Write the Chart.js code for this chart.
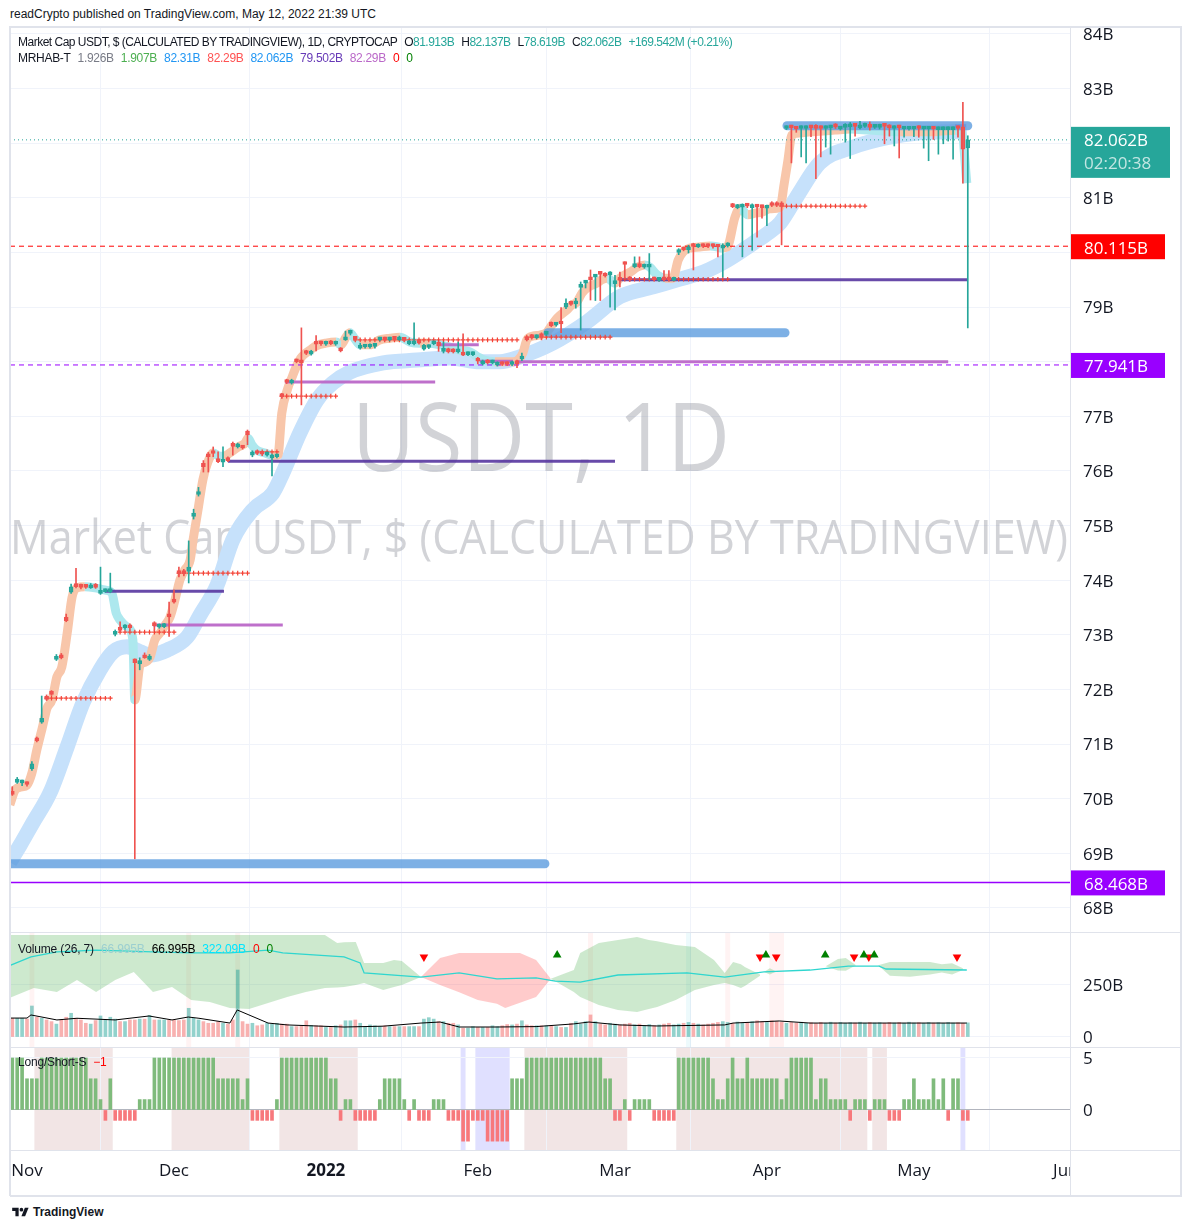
<!DOCTYPE html>
<html>
<head>
<meta charset="utf-8">
<script src="https://cdn.jsdelivr.net/npm/chart.js@4.4.1/dist/chart.umd.min.js"></script>
<style>
    body { margin: 0; width: 1190px; height: 1230px; background: #fff; position: relative; overflow: hidden;
           font-family: 'Liberation Sans', Arial, sans-serif; color: #131722; }
    canvas { position: absolute; left: 10px; }
    #mainChart { top: 27px; }
    #volChart { top: 933px; }
    #lsChart { top: 1048px; }
    .txt { position: absolute; font-size: 12px; line-height: 14px; white-space: nowrap; z-index: 6; }
    .txt span { margin-left: 7px; }
    .sep { position: absolute; background: #e0e3eb; z-index: 5; }
    #pub { left: 10px; top: 7px; }
    #legend1 { left: 18px; top: 35px; letter-spacing: -0.5px; }
    #legend2 { left: 18px; top: 51px; letter-spacing: -0.3px; }
    #volLegend { left: 18px; top: 942px; letter-spacing: -0.15px; }
    #lsLegend { left: 18px; top: 1055px; letter-spacing: -0.2px; }
    #tvlogo { left: 12px; top: 1205px; font-weight: bold; display: flex; align-items: center; }
    .g { color: #26a69a; }
</style>
</head>
<body>
<div class="txt" id="pub">readCrypto published on TradingView.com, May 12, 2022 21:39 UTC</div>
<div class="txt" id="legend1">Market Cap USDT, $ (CALCULATED BY TRADINGVIEW), 1D, CRYPTOCAP<span>O<b class="g" style="font-weight:normal">81.913B</b></span><span>H<b class="g" style="font-weight:normal">82.137B</b></span><span>L<b class="g" style="font-weight:normal">78.619B</b></span><span>C<b class="g" style="font-weight:normal">82.062B</b></span><span class="g">+169.542M (+0.21%)</span></div>
<div class="txt" id="legend2">MRHAB-T<span style="color:#787b86">1.926B</span><span style="color:#4caf50">1.907B</span><span style="color:#2196f3">82.31B</span><span style="color:#ff5252">82.29B</span><span style="color:#2196f3">82.062B</span><span style="color:#673ab7">79.502B</span><span style="color:#ba68c8">82.29B</span><span style="color:#ff0000">0</span><span style="color:#008000">0</span></div>
<div class="txt" id="volLegend">Volume (26, 7)<span style="color:#9ccfd0">66.995B</span><span style="color:#000">66.995B</span><span style="color:#00e5ff">322.09B</span><span style="color:#ff0000">0</span><span style="color:#008000">0</span></div>
<div class="txt" id="lsLegend">Long/Short-S<span style="color:#ff0000">−1</span></div>
<div class="txt" id="tvlogo"><svg width="17" height="12" viewBox="0 0 36 26"><path d="M14 22H7V11H0V4h14v18z" fill="#131722"/><circle cx="20" cy="8" r="4" fill="#131722"/><path d="M28 22h-8l7.5-18h8z" fill="#131722"/></svg><span style="margin-left:4px">TradingView</span></div>

<canvas id="mainChart" width="1170" height="905"></canvas>
<canvas id="volChart" width="1170" height="114"></canvas>
<canvas id="lsChart" width="1170" height="147"></canvas>

<div class="sep" style="left:10px;top:26px;width:1171px;height:2px"></div>
<div class="sep" style="left:9px;top:26px;width:2px;height:1170px"></div>
<div class="sep" style="left:1180px;top:26px;width:2px;height:1170px"></div>
<div class="sep" style="left:10px;top:1195px;width:1172px;height:2px"></div>
<div class="sep" style="left:1070px;top:27px;width:1px;height:1168px"></div>
<div class="sep" style="left:10px;top:932px;width:1170px;height:1px"></div>
<div class="sep" style="left:10px;top:1047px;width:1170px;height:1px"></div>
<div class="sep" style="left:10px;top:1150px;width:1170px;height:1px"></div>

<script>
/* eslint-disable no-undef */
// day 0 = 1 Nov 2021, first candle = 29 Oct 2021
const FIRST_DAY = -3;
const X_MIN = -3.47;
const X_MAX = 212.86;

const monthDays = [0, 30, 61, 92, 120, 151, 181, 212];
const monthLabels = ['Nov', 'Dec', '2022', 'Feb', 'Mar', 'Apr', 'May', 'Jun'];
const priceTicks = [68, 69, 70, 71, 72, 73, 74, 75, 76, 77, 78, 79, 80, 81, 82, 83, 84];
const hiddenPriceTicks = [78, 80, 82];
const volumeTicks = [0, 250];
const lsTicks = [0, 5];

// daily candles, billions
const ohlcOpen = [
    70.13, 70.30, 70.29, 70.30, 70.55, 71.10, 71.40, 71.86, 71.95, 72.55,
    72.62, 73.32, 73.78, 73.94, 73.90, 73.90, 73.86, 73.91, 73.76, 73.79,
    73.79, 73.01, 73.14, 73.13, 73.17, 72.56, 72.47, 72.62, 72.55, 73.20,
    73.14, 73.15, 73.38, 73.65, 74.16, 74.16, 74.16, 75.17, 75.57, 76.14,
    76.31, 76.37, 76.20, 76.16, 76.22, 76.49, 76.44, 76.45, 76.73, 76.29,
    76.35, 76.34, 76.29, 76.24, 76.26, 77.40, 77.66, 77.61, 78.04, 78.03,
    78.19, 78.14, 78.36, 78.36, 78.32, 78.37, 78.32, 78.24, 78.40, 78.52,
    78.44, 78.25, 78.27, 78.27, 78.28, 78.40, 78.43, 78.40, 78.44, 78.40,
    78.42, 78.33, 78.33, 78.37, 78.23, 78.26, 78.33, 78.36, 78.19, 78.24,
    78.22, 78.18, 78.16, 78.13, 78.13, 78.05, 77.96, 78.03, 77.98, 77.94,
    77.98, 77.98, 77.95, 78.02, 78.05, 78.44, 78.48, 78.44, 78.50, 78.50,
    78.72, 78.67, 78.73, 79.00, 79.09, 79.06, 79.36, 79.44, 79.53, 79.55,
    79.63, 79.62, 79.59, 79.43, 79.52, 79.82, 79.53, 79.74, 79.77, 79.73,
    79.73, 79.53, 79.49, 79.54, 79.53, 79.49, 80.00, 80.08, 80.05, 80.14,
    80.10, 80.14, 80.14, 80.14, 80.13, 80.08, 80.12, 80.89, 80.82, 80.83,
    80.88, 80.82, 80.86, 80.85, 80.81, 80.91, 80.91, 80.91, 82.27, 82.31,
    82.28, 82.27, 82.27, 82.31, 82.33, 82.30, 82.27, 82.28, 82.33, 82.26,
    82.29, 82.30, 82.35, 82.28, 82.31, 82.32, 82.29, 82.29, 82.34, 82.33,
    82.27, 82.31, 82.26, 82.26, 82.26, 82.30, 82.26, 82.26, 82.30, 82.25,
    82.25, 82.25, 82.25, 82.30, 82.30, 81.913
];
const ohlcHigh = [
    70.22, 70.39, 70.34, 70.31, 70.68, 71.13, 71.88, 71.90, 71.98, 72.64,
    72.66, 73.38, 73.93, 74.22, 73.93, 73.92, 73.94, 73.94, 74.24, 73.84,
    74.13, 73.09, 73.24, 73.19, 73.20, 72.56, 72.58, 72.67, 72.64, 73.24,
    73.20, 73.21, 73.60, 73.82, 74.24, 74.20, 74.72, 75.30, 75.70, 76.19,
    76.34, 76.44, 76.35, 76.44, 76.26, 76.53, 76.51, 76.47, 76.75, 76.37,
    76.37, 76.35, 76.35, 76.31, 76.31, 77.42, 77.68, 77.68, 78.05, 78.62,
    78.21, 78.21, 78.48, 78.38, 78.38, 78.39, 78.38, 78.26, 78.56, 78.58,
    78.46, 78.34, 78.31, 78.33, 78.33, 78.45, 78.45, 78.45, 78.46, 78.47,
    78.44, 78.39, 78.71, 78.39, 78.32, 78.31, 78.38, 78.37, 78.36, 78.25,
    78.24, 78.36, 78.51, 78.18, 78.18, 78.08, 78.03, 78.04, 78.03, 78.00,
    78.00, 78.00, 78.01, 78.03, 78.16, 78.46, 78.50, 78.49, 78.53, 78.56,
    78.73, 78.72, 78.99, 79.15, 79.11, 79.16, 79.46, 79.49, 79.68, 79.60,
    79.65, 79.63, 79.65, 79.58, 79.64, 79.83, 79.56, 79.92, 79.92, 79.79,
    79.98, 79.55, 79.54, 79.67, 79.67, 79.55, 80.07, 80.09, 80.13, 80.17,
    80.16, 80.16, 80.16, 80.16, 80.15, 80.16, 80.18, 80.90, 80.88, 80.89,
    80.90, 80.89, 80.88, 80.87, 80.87, 80.93, 80.93, 80.93, 82.32, 82.33,
    82.30, 82.32, 82.32, 82.33, 82.34, 82.32, 82.32, 82.33, 82.36, 82.31,
    82.36, 82.38, 82.36, 82.40, 82.37, 82.39, 82.34, 82.35, 82.36, 82.34,
    82.32, 82.33, 82.31, 82.31, 82.31, 82.32, 82.31, 82.31, 82.31, 82.30,
    82.30, 82.30, 82.30, 82.32, 82.75, 82.137
];
const ohlcLow = [
    70.06, 70.28, 70.24, 70.23, 70.52, 71.04, 71.38, 71.80, 71.89, 72.53,
    72.56, 73.24, 73.76, 73.86, 73.84, 73.85, 73.85, 73.85, 73.74, 73.78,
    73.77, 72.98, 73.06, 73.10, 73.08, 68.90, 72.36, 72.57, 72.53, 73.08,
    73.12, 73.13, 72.97, 73.58, 74.06, 74.08, 73.95, 75.12, 75.54, 75.98,
    75.98, 76.26, 76.15, 76.08, 76.17, 76.29, 76.42, 76.40, 76.48, 76.26,
    76.30, 76.28, 76.27, 75.91, 76.24, 77.33, 77.60, 77.59, 77.98, 77.21,
    78.13, 78.12, 78.20, 78.30, 78.30, 78.31, 78.30, 78.18, 78.39, 78.49,
    78.38, 78.23, 78.25, 78.25, 78.25, 78.38, 78.38, 78.38, 78.39, 78.39,
    78.37, 78.31, 78.31, 78.32, 78.21, 78.24, 78.31, 78.19, 78.16, 78.16,
    78.16, 78.16, 78.11, 78.11, 78.11, 77.96, 77.94, 77.96, 77.96, 77.92,
    77.93, 77.93, 77.93, 77.89, 78.02, 78.38, 78.42, 78.42, 78.40, 78.48,
    78.64, 78.65, 78.53, 78.97, 79.03, 78.98, 78.58, 79.35, 79.13, 79.12,
    79.12, 79.55, 79.00, 78.95, 79.37, 79.53, 79.47, 79.72, 79.72, 79.71,
    79.50, 79.48, 79.47, 79.48, 79.48, 79.48, 79.96, 80.03, 79.99, 79.68,
    80.09, 80.09, 80.09, 80.08, 79.92, 79.55, 80.10, 80.82, 80.80, 79.92,
    80.82, 80.04, 80.28, 80.63, 80.49, 80.84, 80.84, 80.14, 82.25, 81.64,
    82.20, 81.75, 81.64, 82.12, 81.35, 81.75, 81.93, 81.80, 82.27, 82.24,
    82.02, 81.72, 82.13, 82.26, 82.29, 82.24, 82.27, 82.26, 81.99, 82.13,
    81.95, 81.73, 82.11, 82.24, 82.12, 82.11, 81.91, 81.68, 82.07, 81.80,
    81.99, 82.04, 81.71, 82.11, 81.27, 78.619
];
const ohlcClose = [
    70.08, 70.36, 70.33, 70.26, 70.64, 71.06, 71.47, 71.82, 71.91, 72.60,
    72.58, 73.26, 73.88, 73.88, 73.87, 73.87, 73.90, 73.87, 73.79, 73.82,
    73.82, 73.05, 73.08, 73.16, 73.13, 72.49, 72.53, 72.58, 72.61, 73.17,
    73.18, 73.18, 73.33, 73.60, 74.12, 74.12, 74.24, 75.23, 75.62, 76.08,
    76.26, 76.32, 76.17, 76.20, 76.19, 76.45, 76.48, 76.42, 76.66, 76.35,
    76.32, 76.31, 76.33, 76.29, 76.29, 77.36, 77.62, 77.65, 78.00, 77.98,
    78.15, 78.18, 78.32, 78.33, 78.36, 78.33, 78.35, 78.20, 78.43, 78.55,
    78.41, 78.28, 78.29, 78.30, 78.30, 78.43, 78.40, 78.43, 78.41, 78.43,
    78.39, 78.36, 78.36, 78.34, 78.30, 78.29, 78.36, 78.29, 78.22, 78.18,
    78.18, 78.22, 78.12, 78.16, 78.16, 78.01, 78.01, 77.98, 78.01, 77.97,
    77.95, 77.95, 77.98, 77.96, 78.09, 78.40, 78.44, 78.47, 78.46, 78.54,
    78.66, 78.70, 78.69, 79.07, 79.05, 79.09, 79.40, 79.47, 79.50, 79.58,
    79.60, 79.57, 79.62, 79.47, 79.49, 79.78, 79.50, 79.77, 79.74, 79.76,
    79.76, 79.50, 79.52, 79.50, 79.50, 79.52, 80.04, 80.05, 80.09, 80.11,
    80.13, 80.11, 80.11, 80.11, 80.10, 80.11, 80.16, 80.84, 80.85, 80.86,
    80.85, 80.85, 80.83, 80.82, 80.84, 80.86, 80.86, 80.85, 82.30, 82.28,
    82.26, 82.30, 82.30, 82.28, 82.27, 82.27, 82.30, 82.31, 82.30, 82.29,
    82.34, 82.33, 82.31, 82.31, 82.35, 82.29, 82.32, 82.32, 82.31, 82.28,
    82.30, 82.28, 82.29, 82.29, 82.29, 82.27, 82.29, 82.29, 82.26, 82.28,
    82.28, 82.28, 82.28, 82.27, 81.89, 82.062
];

// daily volume, billions
const volumeValues = [
    90, 90, 90, 86, 149, 95, 90, 82, 74, 62,
    82, 95, 114, 90, 82, 66, 62, 79, 101, 82,
    95, 86, 74, 74, 82, 82, 86, 86, 104, 82,
    82, 82, 82, 82, 79, 82, 138, 90, 82, 74,
    66, 66, 74, 66, 62, 82, 322, 74, 62, 66,
    54, 58, 66, 62, 66, 62, 62, 50, 50, 54,
    78, 56, 54, 54, 46, 46, 54, 58, 78, 78,
    82, 66, 50, 58, 54, 50, 54, 50, 50, 50,
    50, 50, 50, 50, 86, 93, 86, 74, 74, 66,
    66, 58, 42, 42, 50, 46, 46, 46, 54, 50,
    54, 60, 58, 62, 78, 58, 54, 54, 54, 54,
    54, 50, 46, 46, 66, 74, 62, 74, 106, 74,
    62, 58, 66, 62, 58, 62, 66, 58, 62, 55,
    60, 54, 58, 62, 66, 58, 62, 66, 70, 66,
    62, 58, 62, 66, 70, 74, 70, 66, 72, 66,
    70, 74, 78, 74, 70, 78, 74, 70, 66, 70,
    67, 71, 66, 69, 65, 70, 66, 71, 67, 70,
    66, 69, 67, 71, 66, 70, 67, 69, 66, 70,
    67, 70, 66, 71, 67, 69, 66, 70, 67, 69,
    66, 70, 67, 69, 66, 68
];

// Long/Short-S histogram, one per candle
const longShortValues = [
    5, 5, 5, 3, 3, 3, 5, 5, 5, 5,
    5, 5, 5, 5, 5, 5, 3, 3, 1, -1,
    3, -1, -1, -1, -1, -1, 1, 1, 1, 5,
    5, 5, 5, 5, 5, 5, 5, 5, 5, 5,
    5, 5, 3, 3, 3, 3, 3, 1, 3, -1,
    -1, -1, -1, -1, 1, 5, 5, 5, 5, 5,
    5, 5, 5, 5, 5, 3, 3, -1, 1, 1,
    -1, -1, -1, -1, -1, 1, 3, 3, 3, 3,
    1, -1, 1, -1, -1, -1, 1, 1, 1, -1,
    -1, -1, -3, -3, -1, -1, -1, -3, -3, -3,
    -3, -3, 3, 3, 3, 5, 5, 5, 5, 5,
    5, 5, 5, 5, 5, 5, 5, 5, 5, 5,
    5, 3, 3, -1, -1, 1, -1, 1, 1, 1,
    1, -1, -1, -1, -1, -1, 5, 5, 5, 5,
    5, 5, 5, 3, 1, 1, 3, 5, 3, 3,
    5, 3, 3, 3, 3, 3, 3, 1, 3, 5,
    5, 5, 5, 5, 1, 3, 3, 1, 1, 1,
    1, -1, 1, 1, 1, -1, 1, 1, 1, -1,
    -1, -1, 1, 1, 3, 1, 1, 1, 3, 1,
    3, -1, 3, 3, -1, -1
];

// MRHAB ribbon (fast) and slow band, [day, value]
const ribbonLine = [
    [-3.5, 69.89], [-2.4, 70.16], [-1.4, 70.21], [0, 70.25], [1, 70.47], [2, 70.89], [3.1, 71.29],
    [4.1, 71.66], [5.1, 71.81], [6.1, 72.23], [7.1, 72.41], [8.2, 73.03], [9.2, 73.69], [10.2, 73.86],
    [11.8, 73.88], [13.9, 73.86], [15.9, 73.82], [17.3, 73.77], [18.2, 73.40], [19, 73.27], [20.6, 73.13],
    [21.6, 72.91], [22, 71.81], [23.1, 72.45], [24.1, 72.50], [25.1, 72.59], [26.1, 72.91], [27.1, 73.03],
    [28.2, 73.18], [29.2, 73.33], [30.2, 73.64], [31.2, 74.00], [32.2, 74.19], [33.3, 74.37], [33.9, 74.74],
    [34.9, 75.29], [35.9, 75.84], [36.9, 76.16], [38, 76.33], [39, 76.28], [40, 76.27], [41.4, 76.33],
    [43.1, 76.44], [44.5, 76.51], [45.1, 76.60], [45.9, 76.48], [46.9, 76.38], [48.6, 76.33], [50, 76.29],
    [51.2, 76.29], [52, 77.06], [53.1, 77.48], [54.1, 77.72], [55.1, 77.94], [55.9, 78.07], [56.9, 78.16],
    [58, 78.23], [59, 78.29], [61, 78.34], [63.1, 78.36], [64.1, 78.31], [65.1, 78.45], [65.9, 78.53],
    [66.9, 78.42], [68, 78.31], [70, 78.31], [72, 78.40], [74.1, 78.43], [76.1, 78.45], [78.2, 78.36],
    [80.2, 78.34], [82.2, 78.34], [84.3, 78.31], [86.3, 78.27], [88.4, 78.21], [90.4, 78.18], [92, 78.09],
    [93.3, 78.03], [95.5, 78.00], [97.6, 78.00], [99.2, 78.00], [100.2, 78.03], [101.2, 78.16], [102, 78.40],
    [103.3, 78.47], [104.7, 78.49], [106.1, 78.54], [107.1, 78.67], [108.2, 78.80], [110.2, 78.95], [111.2, 79.04],
    [112.2, 79.09], [113.3, 79.26], [114.3, 79.35], [115.3, 79.40], [116.3, 79.44], [117.3, 79.50], [118.4, 79.53],
    [120, 79.44], [121, 79.53], [122, 79.59], [123.1, 79.64], [124.5, 79.73], [126.1, 79.77], [127.1, 79.73],
    [128.6, 79.59], [130.2, 79.53], [131.8, 79.53], [132.9, 79.86], [133.9, 80.01], [135.3, 80.08], [137.3, 80.10],
    [139.4, 80.12], [141, 80.10], [141.8, 80.08], [142.9, 80.10], [144.5, 80.65], [145.5, 80.81], [147.1, 80.69],
    [148.6, 80.72], [150, 80.74], [151.6, 80.80], [153.7, 80.83], [154.5, 81.24], [155.3, 81.69], [156.1, 82.15],
    [157.8, 82.19], [159.8, 82.21], [161.8, 82.22], [164.9, 82.24], [168, 82.26], [172, 82.24], [178.2, 82.21],
    [184.3, 82.21], [189.4, 82.24], [190.8, 82.19], [191.8, 81.27]
];
const slowBand = [
    [-3.5, 68.84], [-1.4, 69.15], [1.2, 69.56], [4.7, 70.11], [8.2, 70.95], [11.4, 71.75], [14.9, 72.36],
    [17.6, 72.69], [20.4, 72.78], [23.1, 72.69], [25.1, 72.63], [28.6, 72.72], [32.7, 72.96], [35.3, 73.36],
    [38.8, 73.91], [42, 74.74], [46.1, 75.29], [50.2, 75.60], [52.2, 75.96], [55.7, 76.70], [59.2, 77.30],
    [62.4, 77.61], [65.9, 77.81], [72.7, 77.98], [79.6, 78.03], [86.3, 78.07], [92.4, 78.00], [96.5, 78.00],
    [100.6, 78.09], [107.3, 78.34], [114.3, 78.73], [121, 79.19], [127.8, 79.37], [132.7, 79.50], [138, 79.64],
    [142.9, 79.86], [148.2, 80.17], [151.6, 80.38], [153.7, 80.54], [157.1, 81.02], [161.8, 81.64], [168.6, 81.93],
    [175.5, 82.10], [182.2, 82.19], [189, 82.21], [191.8, 82.22]
];

// horizontal levels: [fromDay, toDay, value]
const indigoLevels = [[15.9, 40.2, 73.80], [41, 120, 76.18], [121, 192, 79.50]];
const orchidLevels = [[25.7, 52.2, 73.18], [52.7, 83.3, 77.63], [83.9, 92.2, 78.31], [92.4, 99.2, 78.01], [100, 188, 78.00], [189.4, 191.6, 82.32]];
const crossLevels = [[4, 17, 71.84], [19, 30, 73.05], [31, 45, 74.13], [47, 51, 76.35], [52, 63, 77.37], [67, 100, 78.40], [102, 119, 78.45], [121, 143, 79.51], [154, 171, 80.85]];
const dotLevels = [[-3.6, 105.7, 68.81], [106.3, 154.7, 78.53], [155.1, 192, 82.32]];

const lastPrice = 82.062;
const redLevel = 80.115;
const purpleLevel = 77.941;
const baseLevel = 68.468;

// volume pane: cloud regions [day, top, bottom], lines [day, value]
const greenCloudA = [[-3.5, 490, 188], [1.4, 490, 236], [6.1, 490, 216], [10.2, 490, 274], [14.1, 490, 216], [18, 490, 274],
    [21.8, 490, 313], [25.7, 490, 216], [29.6, 490, 240], [33.5, 490, 178], [37.3, 490, 168], [41.4, 490, 139], [45.3, 490, 135],
    [49.2, 490, 163], [53.1, 490, 192], [56.9, 490, 216], [60.8, 490, 236], [63.3, 452, 238], [64.7, 455, 240], [67.1, 457, 250],
    [68.8, 356, 260], [72.7, 356, 226], [74.9, 370, 240], [76.5, 365, 250], [80.4, 288, 288]];
const redCloud = [[80.4, 288, 288], [84.3, 380, 250], [88.2, 404, 215], [92, 404, 178], [95.9, 404, 160], [97.6, 404, 139],
    [100.6, 404, 165], [103.9, 370, 192], [106.9, 280, 280]];
const greenCloudB = [[106.9, 280, 280], [111.6, 322, 216], [112.9, 404, 192], [116.7, 452, 154], [120.6, 466, 130], [124.5, 481, 120],
    [126.9, 466, 135], [128.6, 460, 144], [132.4, 442, 178], [136.3, 433, 226], [140.2, 370, 250], [142.4, 308, 260], [144.1, 361, 250],
    [145.7, 350, 236], [146.5, 337, 245], [149.6, 300, 295]];
const greenCloudC = [[150.4, 313, 313], [151.6, 330, 300], [152.9, 315, 315]];
const greenCloudD = [[163, 340, 340], [165.5, 375, 320], [167.1, 380, 318], [169.2, 345, 345]];
const greenCloudE = [[173.7, 345, 345], [176.1, 361, 295], [180.2, 361, 290], [184.3, 361, 300], [186.7, 350, 310], [188.8, 355, 300], [191, 330, 322]];
const volCyan = [[-3.3, 346], [0.8, 385], [6.1, 409], [14.1, 418], [25.7, 409], [33.5, 404], [41.4, 404], [49.2, 418], [52.2, 404],
    [64.7, 385], [68, 356], [68.8, 308], [80.4, 288], [88.2, 308], [95.9, 279], [103.9, 284], [107.8, 269], [112.9, 264], [120.6, 298],
    [134.7, 308], [142.4, 288], [150.4, 313], [159.8, 322], [167.6, 341], [173.9, 341], [175.3, 327], [191.8, 322]];
const volAverage = [[-3.5, 91], [0, 91], [0.8, 106], [6.1, 82], [10.2, 90], [18, 82], [24.9, 101], [29.6, 82], [32.9, 96], [35.1, 90],
    [41.4, 67], [42.9, 130], [49.2, 67], [53.1, 58], [64.7, 48], [72.7, 52], [80.4, 67], [84.3, 72], [88.2, 48], [95.9, 48], [103.9, 50],
    [111.6, 63], [114.7, 72], [121, 58], [128.6, 53], [142.4, 58], [144.1, 67], [153.5, 77], [159.8, 67], [191.8, 67]];
const volUpMarks = [[108.2, 394], [150.8, 394], [162.9, 394], [170.8, 394], [172.9, 394]];
const volDownMarks = [[81, 385], [149.6, 385], [152.9, 385], [168.8, 385], [171.8, 385], [189.8, 385]];
const volPinkStripes = [[1, 1], [33, 33], [43, 43], [115, 115], [143, 143], [152, 154]];
const volCyanStripes = [[135, 135]];

// Long/Short pane background zones [fromDay, toDay]
const lsPinkZones = [[2, 17], [30, 45], [52, 67], [102, 122], [133, 171], [173, 175]];
const lsBlueZones = [[89, 89], [92, 98], [191, 191]];

const FONT = "'Open Sans', sans-serif";
const TEXT = '#131722';
const GRID = '#f0f3fa';
const UP = '#26a69a';
const DOWN = '#ef5350';

Chart.defaults.font.family = FONT;
Chart.defaults.color = TEXT;

const candleDays = ohlcClose.map((_, i) => FIRST_DAY + i);
const candleUp = ohlcClose.map((c, i) => c >= ohlcOpen[i]);

function range(a, b) {
    const out = [];
    for (let d = a; d <= b; d++) out.push(d);
    return out;
}

function pts(list) {
    return list.map(([x, y]) => ({ x, y }));
}

function hLine(from, to, value, color, width, dash, order) {
    return {
        type: 'line', data: [{ x: from, y: value }, { x: to, y: value }],
        borderColor: color, borderWidth: width, borderDash: dash || [],
        pointRadius: 0, order
    };
}

function monthGridX(showLabels) {
    return {
        type: 'linear', min: X_MIN, max: X_MAX, offset: false,
        afterBuildTicks: s => { s.ticks = monthDays.map(v => ({ value: v })); },
        afterFit: s => { s.height = showLabels ? 45 : 0; s.paddingLeft = 0; s.paddingRight = 0; },
        grid: { color: GRID, drawTicks: false },
        border: { display: false },
        ticks: {
            display: showLabels, autoSkip: false, maxRotation: 0, padding: 11, color: TEXT,
            font: c => ({ size: 17, family: FONT, weight: c.tick && c.tick.value === 61 ? 'bold' : 'normal' }),
            callback: v => monthLabels[monthDays.indexOf(v)]
        }
    };
}

function rightY(min, max, ticks, label, gridColor) {
    return {
        position: 'right', min, max,
        afterBuildTicks: s => { s.ticks = ticks.map(v => ({ value: v })); },
        afterFit: s => { s.width = 110; s.paddingTop = 0; s.paddingBottom = 0; },
        grid: { color: gridColor || GRID, drawTicks: false },
        border: { display: false },
        ticks: { padding: 13, labelOffset: 1.5, color: TEXT, font: { size: 17, family: FONT }, callback: label }
    };
}

const baseOptions = {
    responsive: false, animation: false, events: [],
    layout: { padding: 0, autoPadding: false },
    plugins: { legend: { display: false }, tooltip: { enabled: false } }
};

function dayPixelBox(chart, a, b) {
    const x = chart.scales.x;
    const left = Math.max(x.getPixelForValue(a - 0.5), chart.chartArea.left);
    const right = Math.min(x.getPixelForValue(b + 0.5), chart.chartArea.right);
    return [left, right - left];
}

// ---------- main pane ----------
const mainDecor = {
    id: 'mainDecor',
    beforeDatasetsDraw(chart) {
        const { ctx, chartArea } = chart;
        const fit = (text, cx, cy, size, width) => {
            ctx.save();
            ctx.font = `${size}px ${FONT}`;
            const w = ctx.measureText(text).width;
            ctx.translate(cx, cy);
            ctx.scale(width / w, 1);
            ctx.fillStyle = 'rgba(131, 134, 145, 0.36)';
            ctx.textAlign = 'center';
            ctx.textBaseline = 'middle';
            ctx.fillText(text, 0, 0);
            ctx.restore();
        };
        ctx.save();
        ctx.beginPath();
        ctx.rect(chartArea.left, chartArea.top, chartArea.width, chartArea.height);
        ctx.clip();
        fit('USDT, 1D', 531, 417, 96, 378);
        fit('Market Cap USDT, $ (CALCULATED BY TRADINGVIEW)', 529, 514, 47, 1058);
        ctx.restore();
    },
    afterDraw(chart) {
        const { ctx, chartArea } = chart;
        const y = chart.scales.y;
        const left = chartArea.right + 1;
        const box = (value, texts, bg, w, h, above) => {
            const py = y.getPixelForValue(value);
            const top = py - above;
            ctx.fillStyle = bg;
            ctx.fillRect(left, top, w, h);
            ctx.font = `17px ${FONT}`;
            ctx.textBaseline = 'middle';
            ctx.textAlign = 'left';
            texts.forEach((t, i) => {
                ctx.fillStyle = i === 0 ? '#ffffff' : 'rgba(255,255,255,0.72)';
                ctx.fillText(t, left + 13, top + 14.5 + i * 23);
            });
        };
        box(lastPrice, ['82.062B', '02:20:38'], UP, 99, 51, 13);
        box(redLevel, ['80.115B'], '#ff0000', 94, 25, 12);
        box(purpleLevel, ['77.941B'], '#9900ff', 94, 25, 12);
        box(baseLevel, ['68.468B'], '#9900ff', 94, 25, 12);
    }
};

const mainDatasets = [
    {
        type: 'line', data: pts(slowBand), borderColor: '#c6e1fb', borderWidth: 15,
        pointRadius: 0, cubicInterpolationMode: 'monotone', borderCapStyle: 'butt', order: 30
    },
    {
        type: 'line', data: pts(ribbonLine), borderWidth: 9, pointRadius: 0,
        cubicInterpolationMode: 'monotone', borderJoinStyle: 'round', order: 29,
        borderColor: '#f8c6aa',
        segment: { borderColor: c => (c.p1.parsed.y >= c.p0.parsed.y ? '#f8c6aa' : '#ade8ee') }
    },
    ...indigoLevels.map(([a, b, v]) => hLine(a, b, v, 'rgba(88, 54, 160, 0.9)', 3, null, 20)),
    ...orchidLevels.map(([a, b, v]) => hLine(a, b, v, 'rgba(186, 104, 200, 0.95)', 3, null, 20)),
    hLine(X_MIN, X_MAX, redLevel, '#ff0000', 1, [5, 4], 18),
    hLine(X_MIN, X_MAX, purpleLevel, '#9900ff', 1, [5, 4], 18),
    hLine(X_MIN, X_MAX, baseLevel, '#9900ff', 1.5, null, 18),
    hLine(X_MIN, X_MAX, lastPrice, UP, 1, [1, 3], 18),
    ...dotLevels.map(([a, b, v]) => Object.assign(hLine(a, b, v, 'rgba(92, 156, 222, 0.8)', 9, null, 15), { borderCapStyle: 'round' })),
    ...crossLevels.map(([a, b, v]) => ({
        type: 'line', showLine: false, data: range(a, b).map(d => ({ x: d, y: v })),
        pointStyle: 'cross', pointRadius: 2.3, pointBorderWidth: 1.2, pointBorderColor: '#f44336', order: 12
    })),
    {
        type: 'bar', data: candleDays.map((d, i) => ({ x: d, y: [ohlcLow[i], ohlcHigh[i]] })),
        backgroundColor: candleUp.map(u => (u ? UP : DOWN)), barThickness: 1, grouped: false, order: 2
    },
    {
        type: 'bar', data: candleDays.map((d, i) => ({ x: d, y: [ohlcOpen[i], ohlcClose[i]] })),
        backgroundColor: candleUp.map(u => (u ? 'rgba(38,166,154,0.45)' : 'rgba(239,83,80,0.45)')),
        borderColor: candleUp.map(u => (u ? UP : DOWN)), borderWidth: 1, borderSkipped: false,
        barThickness: 4, minBarLength: 3, grouped: false, order: 1
    }
];

new Chart(document.getElementById('mainChart'), {
    type: 'bar',
    data: { datasets: mainDatasets },
    options: Object.assign({}, baseOptions, {
        scales: {
            x: monthGridX(false),
            y: rightY(67.56, 84.128, priceTicks, v => (hiddenPriceTicks.includes(v) ? '' : v + 'B'))
        }
    }),
    plugins: [mainDecor]
});

// ---------- volume pane ----------
function cloudSets(region, color) {
    return [
        { type: 'line', data: region.map(([x, t]) => ({ x, y: t })), borderWidth: 0, pointRadius: 0, fill: '+1', backgroundColor: color, order: 30 },
        { type: 'line', data: region.map(([x, , b]) => ({ x, y: b })), borderWidth: 0, pointRadius: 0, fill: false, order: 30 }
    ];
}

const volDecor = {
    id: 'volDecor',
    beforeDatasetsDraw(chart) {
        const { ctx, chartArea } = chart;
        const paint = (zones, color) => zones.forEach(([a, b]) => {
            const [l, w] = dayPixelBox(chart, a, b);
            ctx.fillStyle = color;
            ctx.fillRect(l, chartArea.top, w, chartArea.height);
        });
        paint(volPinkStripes, 'rgba(255, 82, 82, 0.07)');
        paint(volCyanStripes, 'rgba(0, 188, 212, 0.07)');
    }
};

const greenFill = 'rgba(76, 175, 80, 0.28)';
new Chart(document.getElementById('volChart'), {
    type: 'bar',
    data: {
        datasets: [
            ...cloudSets(greenCloudA, greenFill),
            ...cloudSets(redCloud, 'rgba(255, 82, 82, 0.3)'),
            ...cloudSets(greenCloudB, greenFill),
            ...cloudSets(greenCloudC, greenFill),
            ...cloudSets(greenCloudD, greenFill),
            ...cloudSets(greenCloudE, greenFill),
            { type: 'line', data: pts(volCyan), borderColor: '#2fd6cf', borderWidth: 1.3, pointRadius: 0, order: 20 },
            {
                type: 'bar', data: candleDays.map((d, i) => ({ x: d, y: volumeValues[i] })),
                backgroundColor: candleUp.map(u => (u ? 'rgba(38,166,154,0.5)' : 'rgba(239,83,80,0.45)')),
                barThickness: 3, grouped: false, order: 10
            },
            { type: 'line', data: pts(volAverage), borderColor: '#000000', borderWidth: 1, pointRadius: 0, order: 5 },
            {
                type: 'line', showLine: false, data: pts(volUpMarks), pointStyle: 'triangle',
                pointRadius: 5, pointBackgroundColor: '#008000', pointBorderWidth: 0, order: 1
            },
            {
                type: 'line', showLine: false, data: pts(volDownMarks), pointStyle: 'triangle', pointRotation: 180,
                pointRadius: 5, pointBackgroundColor: '#ff0000', pointBorderWidth: 0, order: 1
            }
        ]
    },
    options: Object.assign({}, baseOptions, {
        scales: {
            x: monthGridX(false),
            y: rightY(-48.1, 500, volumeTicks, v => (v === 0 ? '0' : v + 'B'))
        }
    }),
    plugins: [volDecor]
});

// ---------- Long/Short pane ----------
const lsDecor = {
    id: 'lsDecor',
    beforeDraw(chart) {
        const { ctx, chartArea } = chart;
        const paint = (zones, color) => zones.forEach(([a, b]) => {
            const [l, w] = dayPixelBox(chart, a, b);
            ctx.fillStyle = color;
            ctx.fillRect(l, chartArea.top, w, chartArea.height);
        });
        paint(lsPinkZones, 'rgba(128, 0, 0, 0.1)');
        paint(lsBlueZones, 'rgba(0, 0, 255, 0.12)');
    },
    afterDraw(chart) {
        // time axis is cut at the price scale
        const { ctx, chartArea } = chart;
        ctx.fillStyle = '#ffffff';
        ctx.fillRect(chartArea.right + 1, chartArea.bottom + 1, chart.width - chartArea.right, chart.height - chartArea.bottom);
    }
};

new Chart(document.getElementById('lsChart'), {
    type: 'bar',
    data: {
        datasets: [{
            type: 'bar', data: candleDays.map((d, i) => ({ x: d, y: longShortValues[i] })),
            backgroundColor: longShortValues.map(v => (v > 0 ? '#7fbb7c' : '#f7787c')),
            barThickness: 3, grouped: false
        }]
    },
    options: Object.assign({}, baseOptions, {
        scales: {
            x: monthGridX(true),
            y: Object.assign(rightY(-3.85, 5.96, lsTicks, v => String(v)), {
                grid: { drawTicks: false, color: c => (c.tick && c.tick.value === 0 ? '#b2b5be' : GRID) }
            })
        }
    }),
    plugins: [lsDecor]
});
</script>
</body>
</html>
